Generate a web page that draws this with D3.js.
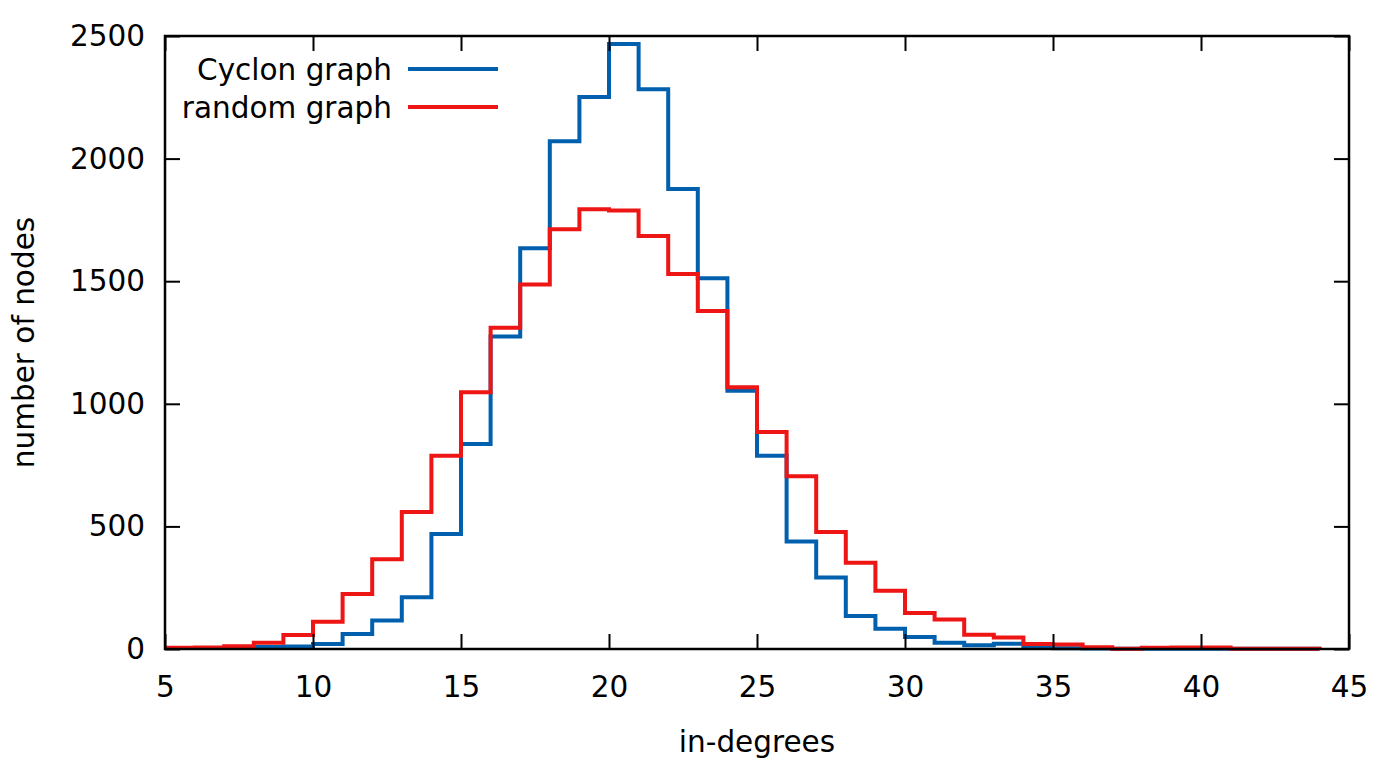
<!DOCTYPE html>
<html>
<head>
<meta charset="utf-8">
<script src="https://cdn.jsdelivr.net/npm/d3@7"></script>
<style>
  body { margin: 0; background: #fff; }
  svg text { font-family: "DejaVu Sans", sans-serif; font-size: 29.5px; fill: #000; }
</style>
</head>
<body>
<svg id="chart" width="1396" height="765"></svg>
<script>
// in-degree values (x) and node counts per series
var cyclonDegrees = [8,9,10,11,12,13,14,15,16,17,18,19,20,21,22,23,24,25,26,27,28,29,30,31,32,33,34,35,36,37,38,39,40,41,42,43,44];
var cyclonCounts  = [8,10,20,61,116,211,469,836,1274,1634,2071,2251,2467,2283,1876,1512,1053,788,438,292,135,83,49,25,15,21,5,3,2,1,1,1,1,1,1,1,0];

var randomDegrees = [5,6,7,8,9,10,11,12,13,14,15,16,17,18,19,20,21,22,23,24,25,26,27,28,29,30,31,32,33,34,35,36,37,38,39,40,41,42,43,44];
var randomCounts  = [5,6,11,26,57,111,224,366,559,788,1047,1310,1487,1712,1793,1788,1684,1529,1378,1067,885,705,477,352,238,147,120,58,47,20,18,7,1,5,6,6,1,1,1,0];

var seriesNames = ["Cyclon graph", "random graph"];
var seriesColors = ["#0060ad", "#ee1515"];

var xTicks = [5,10,15,20,25,30,35,40,45];
var yTicks = [0,500,1000,1500,2000,2500];

// plot box (window.top is taken, so prefixed names)
var plotLeft = 165, plotRight = 1349, plotTop = 36, plotBottom = 649;

var x = d3.scaleLinear().domain([5, 45]).range([plotLeft, plotRight]);
var y = d3.scaleLinear().domain([0, 2500]).range([plotBottom, plotTop]);

var svg = d3.select("#chart");

var series = [
    d3.zip(cyclonDegrees, cyclonCounts),
    d3.zip(randomDegrees, randomCounts)
];

// gnuplot-style steps
var line = d3.line()
    .x(function(d) { return x(d[0]); })
    .y(function(d) { return y(d[1]); })
    .curve(d3.curveStepAfter);

svg.selectAll("path.series")
    .data(series)
    .enter()
    .append("path")
    .classed("series", true)
    .attr("d", line)
    .attr("fill", "none")
    .attr("stroke", function(d, i) { return seriesColors[i]; })
    .attr("stroke-width", 4);

// axes: inward ticks, mirrored on the opposite side
var tickLen = 15;
var axisColor = "#000";
var fmt = d3.format("d");

function styleTicks(g) {
    g.select(".domain").remove();
    g.selectAll("line").attr("stroke", axisColor).attr("stroke-width", 2);
    g.selectAll("text").style("font-size", "29.5px").style("font-family", "DejaVu Sans");
}

svg.append("g")
    .attr("transform", "translate(0," + plotBottom + ")")
    .call(d3.axisBottom(x).tickValues(xTicks).tickFormat(fmt).tickSize(-tickLen).tickPadding(27))
    .call(styleTicks);

svg.append("g")
    .attr("transform", "translate(0," + plotTop + ")")
    .call(d3.axisTop(x).tickValues(xTicks).tickSize(-tickLen).tickFormat(""))
    .call(styleTicks);

svg.append("g")
    .attr("transform", "translate(" + plotLeft + ",0)")
    .call(d3.axisLeft(y).tickValues(yTicks).tickFormat(fmt).tickSize(-tickLen).tickPadding(20))
    .call(styleTicks);

svg.append("g")
    .attr("transform", "translate(" + plotRight + ",0)")
    .call(d3.axisRight(y).tickValues(yTicks).tickSize(-tickLen).tickFormat(""))
    .call(styleTicks);

// border
svg.append("rect")
    .attr("x", plotLeft)
    .attr("y", plotTop)
    .attr("width", plotRight - plotLeft)
    .attr("height", plotBottom - plotTop)
    .attr("fill", "none")
    .attr("stroke", axisColor)
    .attr("stroke-width", 2.5);

// axis titles
svg.append("text")
    .attr("x", (plotLeft + plotRight) / 2)
    .attr("y", 752)
    .attr("text-anchor", "middle")
    .text("in-degrees");

svg.append("text")
    .attr("transform", "translate(34," + (plotTop + plotBottom) / 2 + ") rotate(-90)")
    .attr("text-anchor", "middle")
    .text("number of nodes");

// legend
var legend = svg.selectAll("g.legend")
    .data(seriesNames)
    .enter()
    .append("g")
    .classed("legend", true)
    .attr("transform", function(d, i) { return "translate(0," + (69 + i * 38) + ")"; });

legend.append("text")
    .attr("x", 392)
    .attr("y", 10.5)
    .attr("text-anchor", "end")
    .text(function(d) { return d; });

legend.append("line")
    .attr("x1", 408)
    .attr("x2", 498)
    .attr("stroke", function(d, i) { return seriesColors[i]; })
    .attr("stroke-width", 4);
</script>
</body>
</html>
